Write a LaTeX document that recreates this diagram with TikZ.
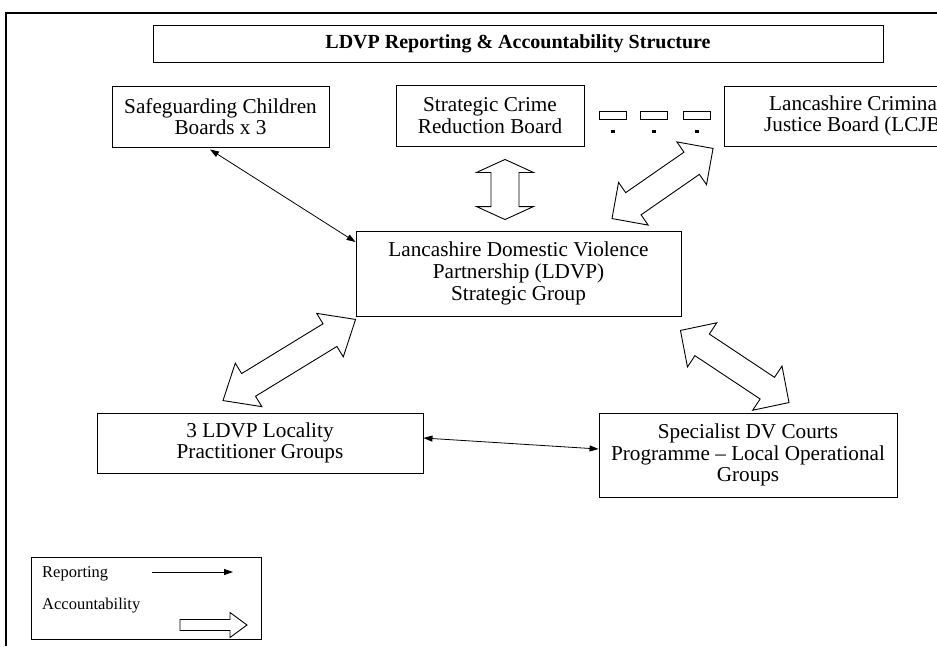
\documentclass[tikz,border=0pt]{standalone}
\usepackage{fontspec}
\setmainfont{Liberation Serif}
\usetikzlibrary{positioning, calc, arrows.meta}

\newcommand{\accboth}[5]{%
  \draw[acc] let \p1=($(#2)-(#1)$), \n1={atan2(\y1,\x1)} in
    (#1) -- ($(#1)+(\n1:#3)+(\n1+90:#4)$) -- ($(#1)+(\n1:#3)+(\n1+90:#5)$)
    -- ($(#2)+(\n1+180:#3)+(\n1+90:#5)$) -- ($(#2)+(\n1+180:#3)+(\n1+90:#4)$)
    -- (#2) -- ($(#2)+(\n1+180:#3)+(\n1-90:#4)$) -- ($(#2)+(\n1+180:#3)+(\n1-90:#5)$)
    -- ($(#1)+(\n1:#3)+(\n1-90:#5)$) -- ($(#1)+(\n1:#3)+(\n1-90:#4)$) -- cycle;}

\tikzset{
  box/.style={draw, line width=0.9pt, align=center, inner sep=0,
              font=\fontsize{21.2}{21.6}\selectfont},
  tinybox/.style={draw, line width=0.8pt, minimum width=27pt, minimum height=8pt, inner sep=0},
  tinydash/.style={fill=black, minimum width=4pt, minimum height=2.5pt, inner sep=0},
  acc/.style={draw, fill=white, line width=0.9pt, line join=miter},
  rep/.style={line width=0.8pt, {Triangle[length=9pt,width=6pt]}-{Triangle[length=9pt,width=6pt]}},
  legtext/.style={anchor=west, inner sep=0, font=\fontsize{16.5}{18}\selectfont}
}

\begin{document}
\begin{tikzpicture}[x=1pt,y=-1pt]
  \useasboundingbox (0,0) rectangle (937,646);
  \clip (0,0) rectangle (937,646);
  \draw[line width=1.4pt] (6,646) -- (6,13) -- (937,13);

  \node(title)[box, minimum width=730pt, minimum height=37pt] at (518,43.5)
    {\fontsize{20}{22}\selectfont\bfseries LDVP Reporting \& Accountability Structure};

  \node(safe)[box, minimum width=217pt, minimum height=61pt] at (220.5,116.5)
    {Safeguarding Children\\Boards x 3};
  \node(crime)[box, minimum width=188pt, minimum height=61pt] at (490,115.5)
    {Strategic Crime\\Reduction Board};
  \node(lcjb)[box, minimum width=263pt, minimum height=60pt] at (856,116)
    {Lancashire Criminal\\Justice Board (LCJB)};

  \node(tb1)[tinybox] at (612.5,115.5) {};
  \node(tb2)[tinybox, right=14pt of tb1] {};
  \node(tb3)[tinybox, right=15pt of tb2] {};
  \node(td1)[tinydash, below=10pt of tb1] {};
  \node(td2)[tinydash, below=10pt of tb2] {};
  \node(td3)[tinydash, below=10pt of tb3] {};

  \node(ldvp)[box, minimum width=325pt, minimum height=85pt] at (518.5,273.5)
    {Lancashire Domestic Violence\\Partnership (LDVP)\\Strategic Group};

  \node(loc)[box, minimum width=326pt, minimum height=60pt] at (260,443)
    {3 LDVP Locality\\Practitioner Groups};
  \node(courts)[box, minimum width=298pt, minimum height=84pt] at (748,455)
    {Specialist DV Courts\\Programme -- Local Operational\\Groups};

  \draw[rep] ([xshift=-10.5pt,yshift=-2pt]safe.south) -- ([yshift=31.5pt]ldvp.west);
  \draw[rep] ([yshift=5pt]loc.east) -- ([yshift=6pt]courts.west);

  \coordinate (v1) at ([xshift=15pt,yshift=-13pt]crime.south);
  \coordinate (v2) at ([xshift=-13.5pt,yshift=11pt]ldvp.north);
  \accboth{v1}{v2}{13pt}{28.5pt}{14pt}

  \coordinate (j1) at ([xshift=93.5pt,yshift=12pt]ldvp.north);
  \coordinate (j2) at ([xshift=-11pt,yshift=-2pt]lcjb.south west);
  \accboth{j1}{j2}{26pt}{26pt}{13.5pt}

  \coordinate (l1) at ([yshift=-3pt]ldvp.south west);
  \coordinate (l2) at ([xshift=-37pt,yshift=12pt]loc.north);
  \accboth{l1}{l2}{30pt}{25.5pt}{13.3pt}

  \coordinate (c1) at ([xshift=-1pt,yshift=-14pt]ldvp.south east);
  \coordinate (c2) at ([xshift=41pt,yshift=10pt]courts.north);
  \accboth{c1}{c2}{26pt}{26.5pt}{13pt}

  \node(legend)[draw, line width=0.9pt, minimum width=230pt, minimum height=82pt, inner sep=0] at (146,598.5) {};
  \node(reptext)[legtext] at (42,574) {Reporting};
  \node(acctext)[legtext] at (42,606) {Accountability};
  \coordinate (r1) at (152,572);
  \coordinate (r2) at (233,572);
  \draw[line width=0.8pt, -{Triangle[length=9pt,width=6pt]}] (r1) -- (r2);
  \coordinate (a1) at (180,625);
  \coordinate (a2) at (247,625);
  \draw[acc] (a1) ++(0,-5.5) -- ++(50,0) -- ++(0,-7) -- (a2) -- ++(-17,12.5)
    -- ++(0,-7) -- ++(-50,0) -- cycle;
\end{tikzpicture}
\end{document}
